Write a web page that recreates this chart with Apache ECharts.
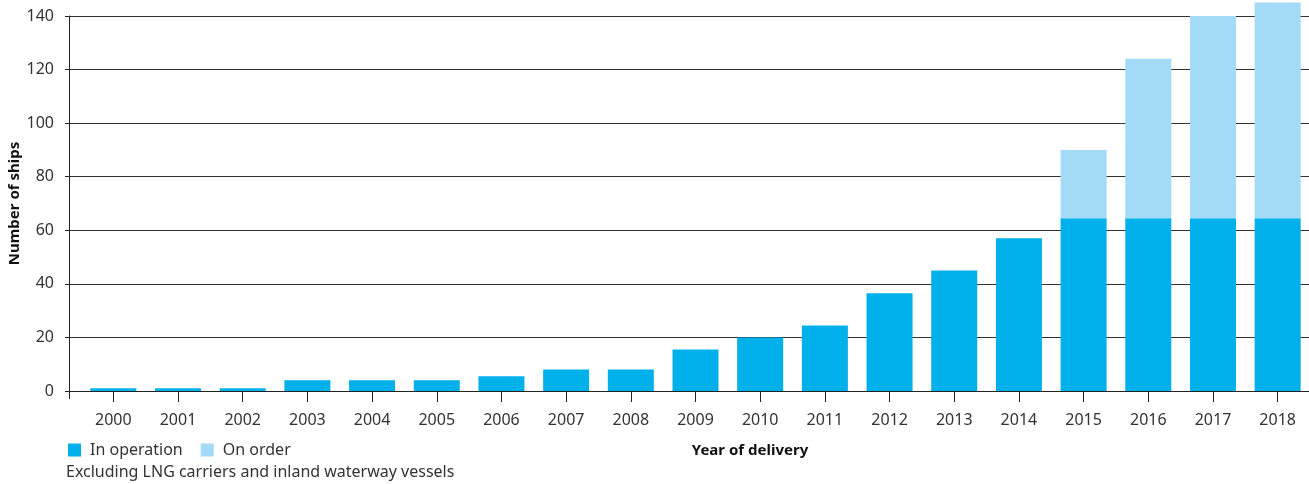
<!DOCTYPE html>
<html>
<head>
<meta charset="utf-8">
<script src="https://cdn.jsdelivr.net/npm/echarts@6/dist/echarts.min.js"></script>
<style>
html,body{margin:0;padding:0;background:#fff;}
#chart{width:1309px;height:484px;}
</style>
</head>
<body>
<div id="chart"></div>
<script>
const years = ['2000','2001','2002','2003','2004','2005','2006','2007','2008','2009','2010','2011','2012','2013','2014','2015','2016','2017','2018'];
const inOperation = [1,1,1,4,4,4,5.5,8,8,15.5,20,24.5,36.5,45,57,64.5,64.5,64.5,64.5];
const onOrder = [0,0,0,0,0,0,0,0,0,0,0,0,0,0,0,25.5,59.5,75.5,80.5];
const yTicks = [0,20,40,60,80,100,120,140];
const seriesNames = ['In operation','On order'];
const footnote = 'Excluding LNG carriers and inland waterway vessels';
const xTitle = 'Year of delivery';
const yTitle = 'Number of ships';

const FONT = '"Noto Sans", sans-serif';
const chart = echarts.init(document.getElementById('chart'), null, {renderer:'canvas'});
chart.setOption({
  animation:false,
  backgroundColor:'#fff',
  grid:[
    {left:69, right:0, top:16, bottom:93, containLabel:false, outerBoundsMode:'none'},
    {left:81, width:1229, top:16, bottom:93, containLabel:false, outerBoundsMode:'none'}
  ],
  xAxis:[
    {gridIndex:0, type:'value', min:0, max:1, interval:1,
     axisLine:{show:true, lineStyle:{color:'#222', width:1}},
     axisTick:{show:true, length:8, lineStyle:{color:'#222'}},
     axisLabel:{show:false}, splitLine:{show:false}},
    {gridIndex:1, type:'category', data:years,
     axisLine:{show:false},
     axisTick:{show:true, alignWithLabel:true, length:11, lineStyle:{color:'#222'}},
     axisLabel:{color:'#333', fontSize:16, fontFamily:FONT, margin:21},
     splitLine:{show:false}}
  ],
  yAxis:[
    {gridIndex:0, type:'value', min:yTicks[0], max:yTicks[yTicks.length-1], interval:20,
     name:yTitle, nameLocation:'middle', nameGap:47, nameMoveOverlap:false,
     nameTextStyle:{color:'#111', fontSize:15, fontWeight:'bold', fontFamily:FONT},
     axisLine:{show:true, lineStyle:{color:'#222'}},
     axisTick:{show:true, length:4, lineStyle:{color:'#222'}},
     axisLabel:{color:'#333', fontSize:16, fontFamily:FONT, margin:15},
     splitLine:{show:true, lineStyle:{color:'#333', width:1}}},
    {gridIndex:1, type:'value', min:yTicks[0], max:yTicks[yTicks.length-1], interval:20, show:false,
     splitLine:{show:false}}
  ],
  legend:{
    left:63, top:437, itemWidth:13, itemHeight:13, itemGap:18, padding:5,
    icon:'rect',
    textStyle:{color:'#333', fontSize:16, fontFamily:FONT, padding:[0,0,0,4]},
    data:seriesNames
  },
  graphic:[
    {type:'text', x:66, y:472, style:{text:footnote, fill:'#333', font:'16px '+FONT, verticalAlign:'middle', textVerticalAlign:'middle'}},
    {type:'text', x:750, y:451, style:{text:xTitle, fill:'#111', font:'bold 15px '+FONT, align:'center', textAlign:'center', verticalAlign:'middle', textVerticalAlign:'middle'}}
  ],
  series:[
    {name:seriesNames[0], type:'bar', stack:'s', xAxisIndex:1, yAxisIndex:1, data:inOperation,
     barWidth:46, itemStyle:{color:'#00b0ea'}, clip:false},
    {name:seriesNames[1], type:'bar', stack:'s', xAxisIndex:1, yAxisIndex:1, data:onOrder,
     barWidth:46, itemStyle:{color:'#a3daf7'}, clip:false}
  ]
});
</script>
</body>
</html>
